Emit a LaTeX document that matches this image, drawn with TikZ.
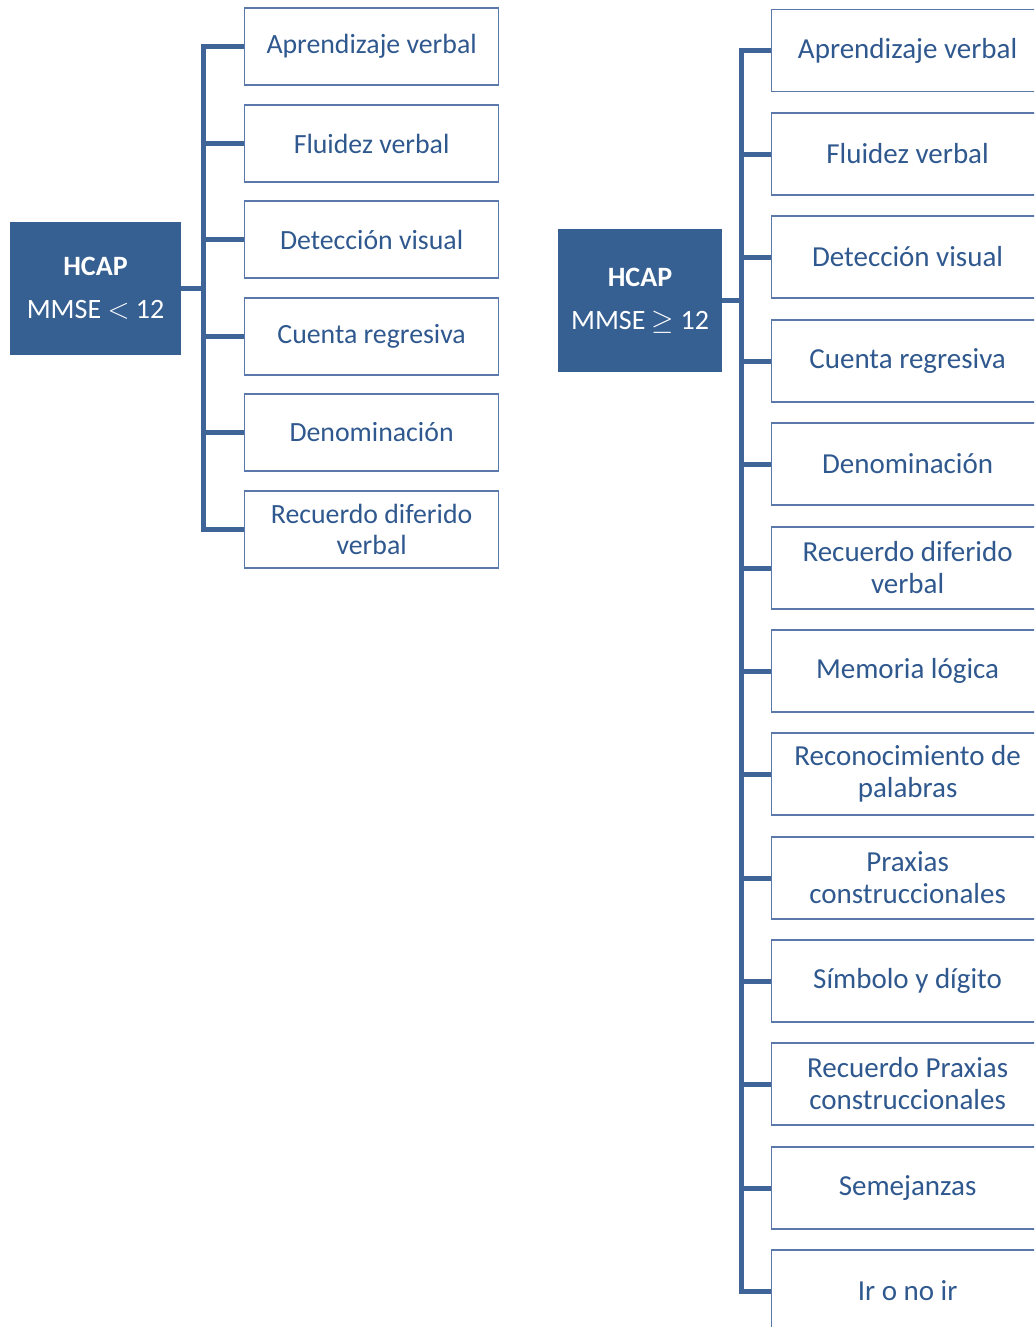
\documentclass[tikz,border=0pt]{standalone}
\usepackage{fontspec}
\setmainfont{Carlito}
\definecolor{hcapblue}{RGB}{55,96,146}
\definecolor{linkblue}{RGB}{62,100,152}
\definecolor{edgeblue}{RGB}{90,120,170}
\definecolor{textblue}{RGB}{47,88,142}
\begin{document}
\begin{tikzpicture}[x=0.5pt,y=-0.5pt,
  hub/.style={fill=hcapblue,draw=none,text=white,align=flush center,font=\fontsize{14}{21.5}\selectfont,inner sep=0pt},
  itemL/.style={draw=edgeblue,line width=0.6pt,text=textblue,align=flush center,anchor=west,
    minimum width=127pt,minimum height=38.5pt,text width=120pt,inner sep=0pt,
    font=\fontsize{13.9}{15.5}\selectfont},
  itemR/.style={draw=edgeblue,line width=0.6pt,text=textblue,align=flush center,anchor=west,
    minimum width=136pt,minimum height=41pt,text width=130pt,inner sep=0pt,
    font=\fontsize{14.5}{16}\selectfont},
  link/.style={draw=linkblue,line width=2.5pt}]
\clip (0,0) rectangle (1034,1327);

% MMSE < 12
\node[hub,minimum width=85.5pt,minimum height=66.5pt] (L) at (95.5,288.5) {\textbf{HCAP}\\MMSE $<$ 12};
\node[itemL] (l1) at (244,46.5) {Aprendizaje verbal};
\node[itemL] (l2) at (244,143.5) {Fluidez verbal};
\node[itemL] (l3) at (244,239.5) {Detección visual};
\node[itemL] (l4) at (244,336.5) {Cuenta regresiva};
\node[itemL] (l5) at (244,432.5) {Denominación};
\node[itemL] (l6) at (244,529.5) {Recuerdo diferido\\verbal};

\path[link] (L.east) -- ++(22,0) |- (l1.west);
\path[link] (L.east) -- ++(22,0) |- (l2.west);
\path[link] (L.east) -- ++(22,0) |- (l3.west);
\path[link] (L.east) -- ++(22,0) |- (l4.west);
\path[link] (L.east) -- ++(22,0) |- (l5.west);
\path[link] (L.east) -- ++(22,0) |- (l6.west);

% MMSE >= 12
\node[hub,minimum width=82pt,minimum height=71.5pt] (R) at (640,300.5) {\textbf{HCAP}\\MMSE $\geq$ 12};
\node[itemR] (r1) at (771,50.5) {Aprendizaje verbal};
\node[itemR] (r2) at (771,154) {Fluidez verbal};
\node[itemR] (r3) at (771,257) {Detección visual};
\node[itemR] (r4) at (771,361) {Cuenta regresiva};
\node[itemR] (r5) at (771,464) {Denominación};
\node[itemR] (r6) at (771,568) {Recuerdo diferido\\verbal};
\node[itemR] (r7) at (771,671) {Memoria lógica};
\node[itemR] (r8) at (771,774) {Reconocimiento de\\palabras};
\node[itemR] (r9) at (771,878) {Praxias\\construccionales};
\node[itemR] (r10) at (771,981) {Símbolo y dígito};
\node[itemR] (r11) at (771,1084) {Recuerdo Praxias\\construccionales};
\node[itemR] (r12) at (771,1188) {Semejanzas};
\node[itemR] (r13) at (771,1291) {Ir o no ir};

\path[link] (R.east) -- ++(19,0) |- (r1.west);
\path[link] (R.east) -- ++(19,0) |- (r2.west);
\path[link] (R.east) -- ++(19,0) |- (r3.west);
\path[link] (R.east) -- ++(19,0) |- (r4.west);
\path[link] (R.east) -- ++(19,0) |- (r5.west);
\path[link] (R.east) -- ++(19,0) |- (r6.west);
\path[link] (R.east) -- ++(19,0) |- (r7.west);
\path[link] (R.east) -- ++(19,0) |- (r8.west);
\path[link] (R.east) -- ++(19,0) |- (r9.west);
\path[link] (R.east) -- ++(19,0) |- (r10.west);
\path[link] (R.east) -- ++(19,0) |- (r11.west);
\path[link] (R.east) -- ++(19,0) |- (r12.west);
\path[link] (R.east) -- ++(19,0) |- (r13.west);
\end{tikzpicture}
\end{document}
